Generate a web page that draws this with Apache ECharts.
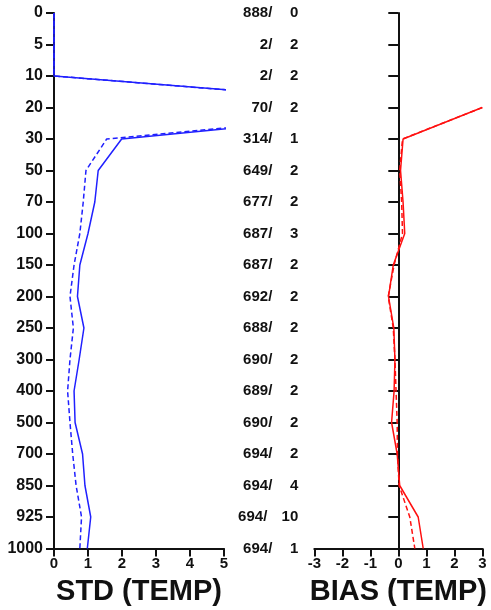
<!DOCTYPE html>
<html>
<head>
<meta charset="utf-8">
<script src="https://cdn.jsdelivr.net/npm/echarts@6/dist/echarts.min.js"></script>
<style>html,body{margin:0;padding:0;background:#fff}#c{width:491px;height:610px}</style>
</head>
<body>
<div id="c"></div>
<script>
var levels = ['0','5','10','20','30','50','70','100','150','200','250','300','400','500','700','850','925','1000'];
var obsCount = [888,2,2,70,314,649,677,687,687,692,688,690,689,690,694,694,694,694];
var obsRej = [0,2,2,2,1,2,2,3,2,2,2,2,2,2,2,4,10,1];
var stdSolid = [0,0,0,11.5,1.99,1.30,1.20,1.00,0.76,0.69,0.88,0.74,0.59,0.62,0.84,0.91,1.08,0.98];
var stdDashed = [0,0,0,11.5,1.55,0.94,0.86,0.76,0.59,0.47,0.57,0.47,0.40,0.47,0.55,0.65,0.81,0.76];
var biasSolid = [null,null,null,3.0,0.17,0.08,0.17,0.23,-0.18,-0.35,-0.16,-0.12,-0.15,-0.24,-0.04,0.05,0.71,0.89];
var biasDashed = [null,null,null,3.0,0.15,0.05,0.12,0.15,-0.15,-0.36,-0.18,-0.12,-0.08,-0.04,-0.03,0.03,0.41,0.59];
var stdTicks = [0,1,2,3,4,5];
var biasTicks = [-3,-2,-1,0,1,2,3];

var FONT = 'Liberation Sans, Arial, sans-serif';
var BLUE = '#2020ff', RED = '#ff1010', INK = '#111';
var axisLineS = {show:true, onZero:true, lineStyle:{color:INK, width:2}};
var tickS = {show:true, length:8, lineStyle:{color:INK, width:2}};

var chart = echarts.init(document.getElementById('c'));
chart.setOption({
  animation:false,
  backgroundColor:'#fff',
  grid:[
    {left:54, top:13, width:170, height:535.5, outerBoundsMode:'none', containLabel:false},
    {left:314.3, top:13, width:168, height:535.5, outerBoundsMode:'none', containLabel:false}
  ],
  xAxis:[
    {type:'value', gridIndex:0, min:stdTicks[0], max:stdTicks[stdTicks.length-1], interval:1,
     axisLine:axisLineS, axisTick:tickS, splitLine:{show:false},
     axisLabel:{color:INK, fontFamily:FONT, fontWeight:'bold', fontSize:15, margin:8},
     name:'STD (TEMP)', nameLocation:'middle', nameGap:29,
     nameTextStyle:{color:INK, fontFamily:FONT, fontWeight:'bold', fontSize:29}},
    {type:'value', gridIndex:1, min:biasTicks[0], max:biasTicks[biasTicks.length-1], interval:1,
     axisLine:axisLineS, axisTick:tickS, splitLine:{show:false},
     axisLabel:{color:INK, fontFamily:FONT, fontWeight:'bold', fontSize:15, margin:8},
     name:'BIAS (TEMP)', nameLocation:'middle', nameGap:29,
     nameTextStyle:{color:INK, fontFamily:FONT, fontWeight:'bold', fontSize:29}}
  ],
  yAxis:[
    {type:'category', gridIndex:0, data:levels, inverse:true, boundaryGap:false,
     axisLine:axisLineS, axisTick:tickS, splitLine:{show:false},
     axisLabel:{color:INK, fontFamily:FONT, fontWeight:'bold', fontSize:16, margin:11, interval:0}},
    {type:'category', gridIndex:1, data:levels, inverse:true, boundaryGap:false,
     axisLine:axisLineS, axisTick:{show:true, length:10, lineStyle:{color:INK, width:2}}, splitLine:{show:false},
     axisLabel:{interval:0, margin:16, align:'right',
       formatter:function(v, i){
         var st = obsRej[i] >= 10 ? 'c' : 'b';
         return '{a|' + obsCount[i] + '/}{' + st + '|' + obsRej[i] + '}';
       },
       rich:{
         a:{color:INK, fontFamily:FONT, fontWeight:'bold', fontSize:15},
         b:{color:INK, fontFamily:FONT, fontWeight:'bold', fontSize:15, width:26, align:'right'},
         c:{color:INK, fontFamily:FONT, fontWeight:'bold', fontSize:15, width:31, align:'right'}
       }}}
  ],
  series:[
    {type:'line', xAxisIndex:0, yAxisIndex:0, data:stdSolid, symbol:'none', clip:true,
     lineStyle:{color:BLUE, width:1.5}},
    {type:'line', xAxisIndex:0, yAxisIndex:0, data:stdDashed, symbol:'none', clip:true,
     lineStyle:{color:BLUE, width:1.5, type:[5,3]}},
    {type:'line', xAxisIndex:1, yAxisIndex:1, data:biasSolid, symbol:'none', clip:true,
     lineStyle:{color:RED, width:1.5}},
    {type:'line', xAxisIndex:1, yAxisIndex:1, data:biasDashed, symbol:'none', clip:true,
     lineStyle:{color:RED, width:1.5, type:[5,3]}}
  ]
});
</script>
</body>
</html>
